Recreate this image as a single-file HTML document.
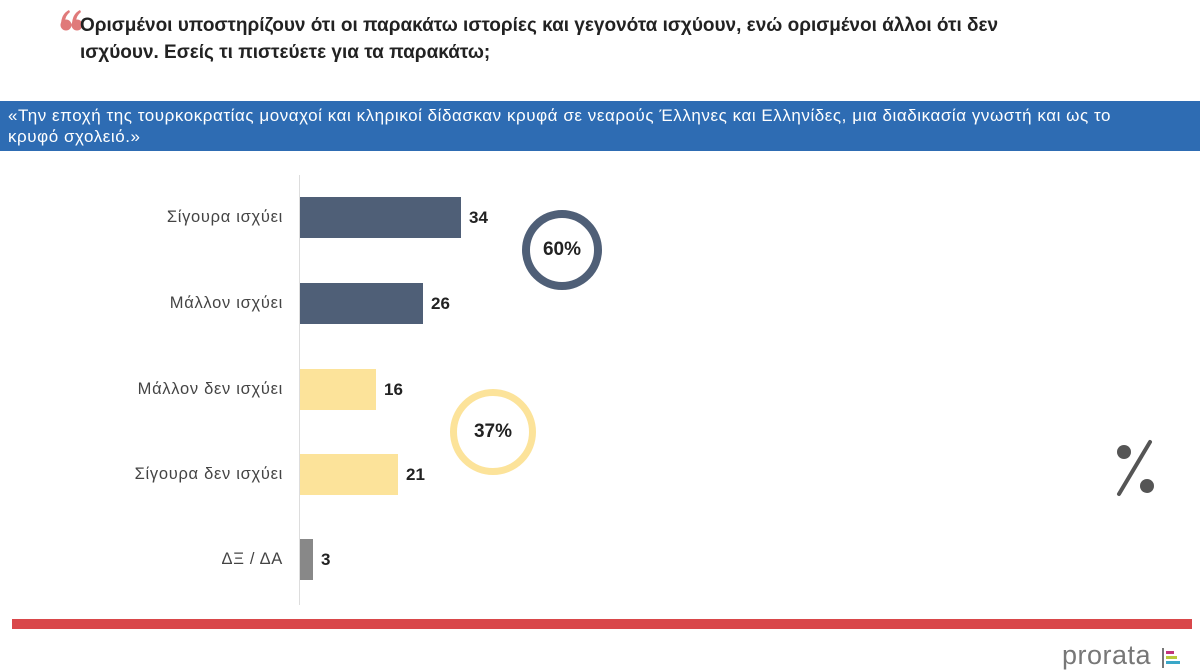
<!DOCTYPE html>
<html><head><meta charset="utf-8"><style>
body{margin:0;width:1200px;height:668px;background:#fff;position:relative;overflow:hidden;font-family:"Liberation Sans","DejaVu Sans",sans-serif;}
.a{position:absolute;}
.title{left:80px;top:12px;font-size:19px;font-weight:bold;color:#222;line-height:27px;}
.banner{left:0;top:101px;width:1200px;height:50px;background:#2e6cb3;color:#fff;font-size:17px;letter-spacing:0.55px;line-height:21px;padding:4px 0 0 8px;box-sizing:border-box;white-space:nowrap;}
.lab{width:283px;left:0;text-align:right;font-size:16.5px;letter-spacing:0.7px;color:#444;}
.bar{left:300px;height:41px;}
.val{font-size:17px;font-weight:bold;color:#222;}
.ring{border-radius:50%;box-sizing:border-box;display:flex;align-items:center;justify-content:center;font-weight:bold;font-size:19px;color:#222;}
</style></head><body>
<svg class="a" style="left:60px;top:6px" width="24" height="26">
<circle cx="6" cy="19" r="5.5" fill="#e07a7a"/><path d="M1 19 Q1 8 9 4 L10 6 Q5 10 5 16 Z" fill="#e07a7a"/>
<circle cx="17" cy="19" r="5.5" fill="#e07a7a"/><path d="M12 19 Q12 8 20 4 L21 6 Q16 10 16 16 Z" fill="#e07a7a"/>
</svg>
<div class="a title">Ορισμένοι υποστηρίζουν ότι οι παρακάτω ιστορίες και γεγονότα ισχύουν, ενώ ορισμένοι άλλοι ότι δεν<br>ισχύουν. Εσείς τι πιστεύετε για τα παρακάτω;</div>
<div class="a banner">«Την εποχή της τουρκοκρατίας μοναχοί και κληρικοί δίδασκαν κρυφά σε νεαρούς Έλληνες και Ελληνίδες, μια διαδικασία γνωστή και ως το<br>κρυφό σχολειό.»</div>
<div class="a" style="left:299px;top:175px;width:1px;height:430px;background:#ddd;"></div>

<div class="a lab" style="top:208px">Σίγουρα ισχύει</div>
<div class="a bar" style="top:197px;width:161px;background:#4f5f77"></div>
<div class="a val" style="left:469px;top:208px">34</div>

<div class="a lab" style="top:294px">Μάλλον ισχύει</div>
<div class="a bar" style="top:283px;width:123px;background:#4f5f77"></div>
<div class="a val" style="left:431px;top:294px">26</div>

<div class="a lab" style="top:380px">Μάλλον δεν ισχύει</div>
<div class="a bar" style="top:369px;width:76px;background:#fce39a"></div>
<div class="a val" style="left:384px;top:380px">16</div>

<div class="a lab" style="top:465px">Σίγουρα δεν ισχύει</div>
<div class="a bar" style="top:454px;width:98px;background:#fce39a"></div>
<div class="a val" style="left:406px;top:465px">21</div>

<div class="a lab" style="top:550px">ΔΞ / ΔΑ</div>
<div class="a bar" style="top:539px;width:13px;background:#888"></div>
<div class="a val" style="left:321px;top:550px">3</div>

<div class="a ring" style="left:522px;top:210px;width:80px;height:80px;border:8px solid #4f5f77">60%</div>
<div class="a ring" style="left:450px;top:389px;width:86px;height:86px;border:7px solid #fce39a">37%</div>

<svg class="a" style="left:1105px;top:432px" width="60" height="70">
<circle cx="19" cy="20" r="7" fill="#555"/><circle cx="42" cy="54" r="7" fill="#555"/>
<line x1="14" y1="62" x2="45" y2="10" stroke="#555" stroke-width="4" stroke-linecap="round"/>
</svg>
<div class="a" style="left:12px;top:619px;width:1180px;height:10px;background:#d9474a"></div>
<div class="a" style="left:1062px;top:640px;font-size:27px;color:#777;letter-spacing:0.5px">prorata</div>
<div class="a" style="left:1162px;top:648px;width:2px;height:20px;background:#777"></div>
<div class="a" style="left:1166px;top:651px;width:8px;height:3px;background:#c2357b"></div>
<div class="a" style="left:1166px;top:656px;width:11px;height:3px;background:#b9c83a"></div>
<div class="a" style="left:1166px;top:661px;width:14px;height:3px;background:#3aa7c8"></div>
</body></html>
